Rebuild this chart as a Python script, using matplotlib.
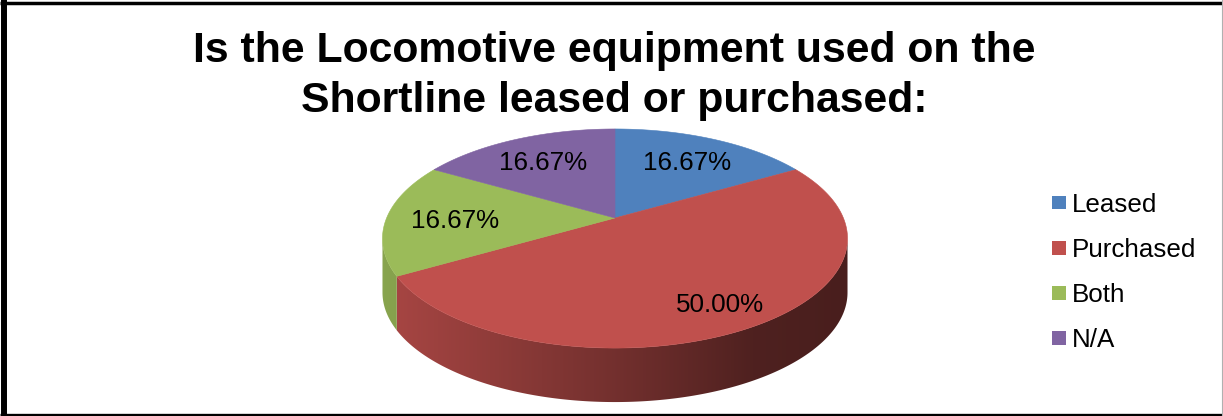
import numpy as np
import matplotlib
matplotlib.use('Agg')
from matplotlib import pyplot as plt
from matplotlib.patches import Polygon, Rectangle
from matplotlib.colors import to_rgb

plt.rcParams['font.family'] = ['Liberation Sans', 'DejaVu Sans']

# ------------------------------------------------------------
# Dados
# ------------------------------------------------------------
TITLE_LINES = ['Is the Locomotive equipment used on the',
               'Shortline leased or purchased:']
categories = ['Leased', 'Purchased', 'Both', 'N/A']
shares = [16.67, 50.00, 16.67, 16.67]
colors = ['#4F81BD', '#C0504D', '#9BBB59', '#8064A2']

# ------------------------------------------------------------
# Geometria da pizza 3D (coordenadas em pixels)
# ------------------------------------------------------------
W, H = 1223, 416
CX, CY = 615.0, 218.0      # vértice da pizza
A, B = 228.4, 105.7        # semi-eixos antes da perspectiva
K = 0.1873                 # intensidade da perspectiva
DEPTH = 54.0               # espessura da lateral
LABEL_R = [0.70, 0.80, 0.70, 0.70]


def project(theta, r=1.0, drop=0.0):
    """Ângulo em graus, sentido horário a partir do topo."""
    t = np.radians(theta)
    s, c = r * np.sin(t), r * np.cos(t)
    w = 1 + K * c
    return CX + A * s / w, CY - B * c / w + drop


def shade(x):
    """Fator de escurecimento da lateral conforme a posição horizontal."""
    half = A / np.sqrt(1 - K ** 2)
    nx = (x - CX) / half
    return np.interp(nx, [-1.0, 0.0, 0.6, 1.0], [0.88, 0.60, 0.41, 0.38])


fig = plt.figure(figsize=(W / 100, H / 100), dpi=100)
ax = fig.add_axes([0, 0, 1, 1])

fracs = np.array(shares) / np.sum(shares)
edges = np.concatenate([[0], np.cumsum(fracs) * 360])

# trecho da lateral visível (frente da pizza)
vis_r = np.degrees(np.arccos(-K))
vis_l = 360 - vis_r
half = A / np.sqrt(1 - K ** 2)
gx = np.linspace(CX - half - 2, CX + half + 2, 600)

for i, col in enumerate(colors):
    a0, a1 = max(edges[i], vis_r), min(edges[i + 1], vis_l)
    if a1 <= a0:
        continue
    th = np.linspace(a0, a1, 200)
    tx, ty = project(th)
    bx, by = project(th[::-1], drop=DEPTH)
    side = Polygon(np.column_stack([np.r_[tx, bx], np.r_[ty, by]]),
                   closed=True, facecolor='none', edgecolor='none')
    ax.add_patch(side)
    grad = np.clip(np.outer(shade(gx), to_rgb(col)), 0, 1)[None, :, :]
    im = ax.imshow(grad, extent=(gx[0], gx[-1], CY + 2 * B, CY - 40),
                   aspect='auto', interpolation='bilinear', zorder=1)
    im.set_clip_path(side)

# face superior
for i, col in enumerate(colors):
    th = np.linspace(edges[i], edges[i + 1], 200)
    tx, ty = project(th)
    pts = np.column_stack([np.r_[CX, tx], np.r_[CY, ty]])
    ax.add_patch(Polygon(pts, closed=True, facecolor=col, edgecolor=col,
                         linewidth=0.4, zorder=2))

# rótulos de porcentagem
for i, val in enumerate(shares):
    mid = (edges[i] + edges[i + 1]) / 2
    lx, ly = project(mid, r=LABEL_R[i])
    ax.text(lx, ly + 9.5, f'{val:.2f}%', fontsize=18.7, ha='center',
            va='baseline', color='black', zorder=3)

# título
ax.text(614.5, 62, TITLE_LINES[0], fontsize=30.8, fontweight='bold',
        ha='center', va='baseline')
ax.text(614.5, 112, TITLE_LINES[1], fontsize=30.8, fontweight='bold',
        ha='center', va='baseline')

# legenda
for i, (name, col) in enumerate(zip(categories, colors)):
    yc = 202.5 + 45.2 * i
    ax.add_patch(Rectangle((1052, yc - 6.7), 13.5, 13.5, facecolor=col,
                           edgecolor='none'))
    ax.text(1072, yc + 9.3, name, fontsize=18.7, ha='left', va='baseline')

# moldura
ax.plot([4, 4], [0, H], color='black', lw=4.3, solid_capstyle='butt')
ax.plot([0, W], [3, 3], color='black', lw=2.5, solid_capstyle='butt')
ax.plot([0, W], [415, 415], color='black', lw=2.4, solid_capstyle='butt')
ax.plot([1221.5, 1221.5], [0, H], color='#b0b0b0', lw=0.8)

ax.set_xlim(0, W)
ax.set_ylim(H, 0)
ax.axis('off')

plt.savefig('out.png', dpi=100)
plt.close()
